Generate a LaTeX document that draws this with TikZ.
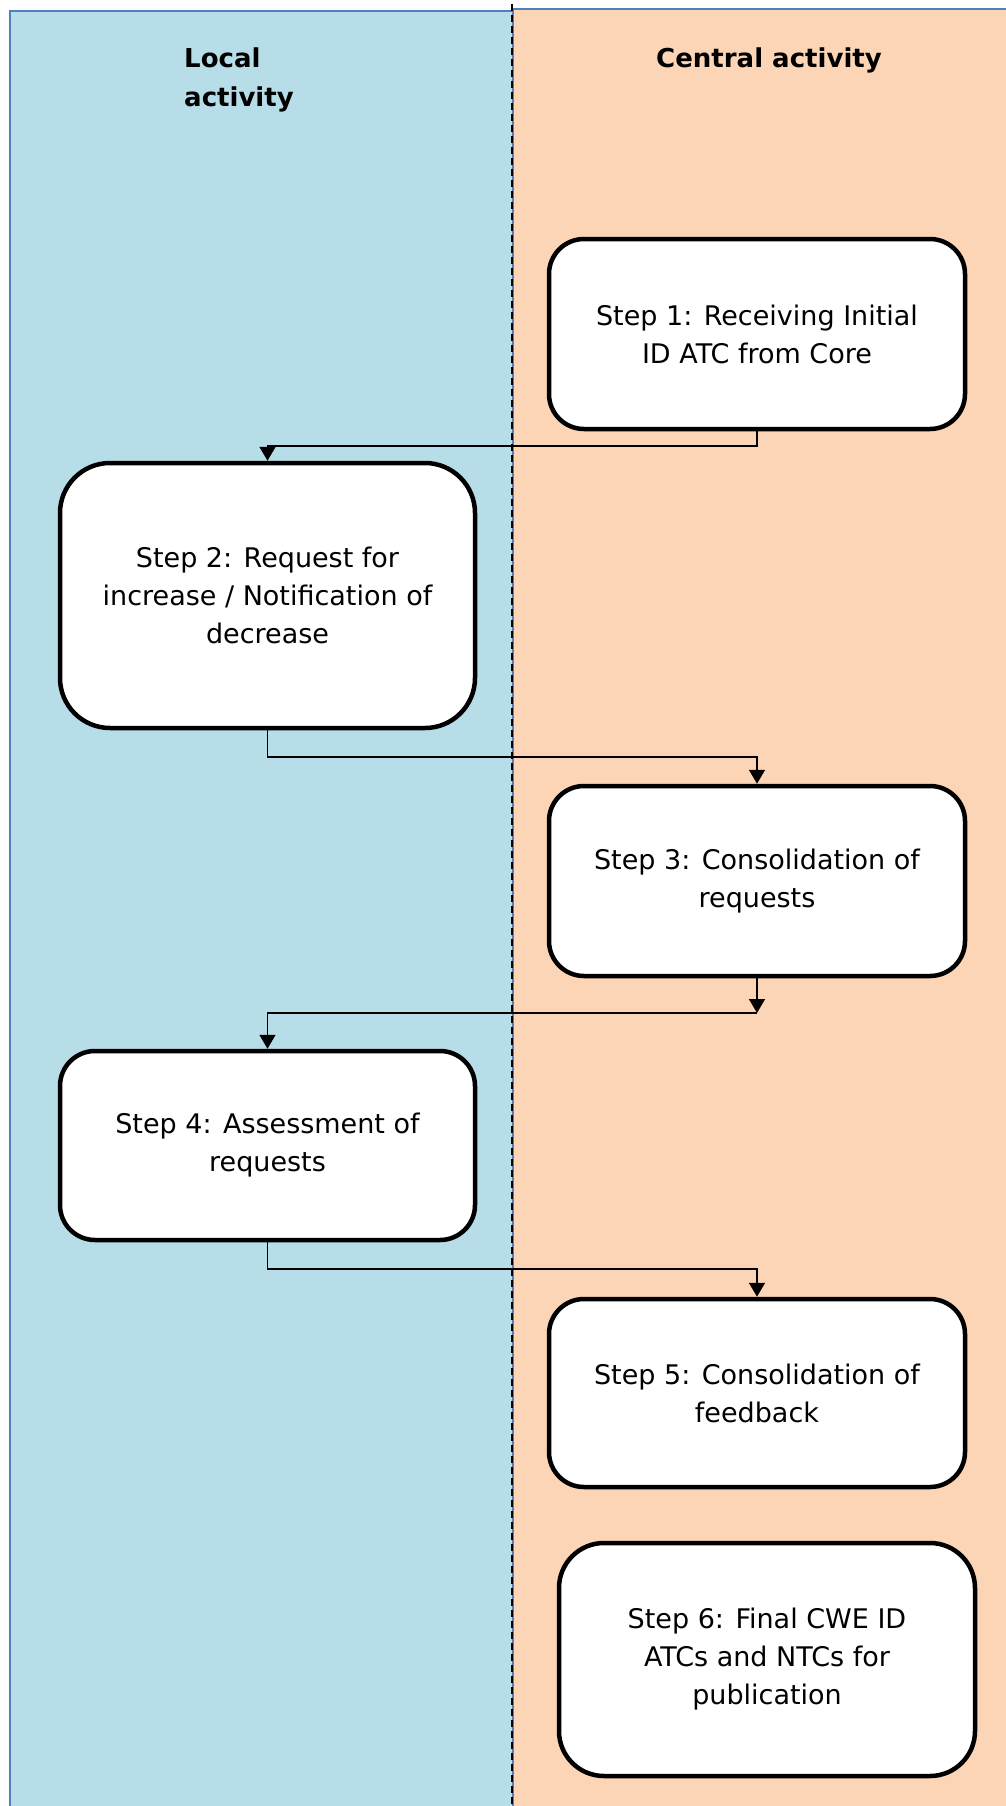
\documentclass[tikz,border=0pt]{standalone}
\usepackage{fontspec}
\setmainfont{DejaVu Sans}
\usetikzlibrary{arrows.meta}

\definecolor{localfill}{RGB}{183,221,232}
\definecolor{centralfill}{RGB}{251,213,181}
\definecolor{laneline}{RGB}{79,129,189}

\tikzset{
  stepbox/.style={draw, line width=4.5pt, fill=white, rounded corners=35pt,
    align=center, inner sep=0pt, font=\fontsize{27}{38}\selectfont},
  lanehead/.style={font=\bfseries\fontsize{26}{39}\selectfont, inner sep=0pt},
  flow/.style={line width=1.6pt, -{Triangle[width=16pt,length=14pt]}},
}

\begin{document}
\begin{tikzpicture}[x=1pt, y=-1pt]
  \useasboundingbox (0,0) rectangle (1005,1806);
  % swim lanes
  \draw[laneline, line width=1.5pt, fill=localfill] (10,1810) -- (10,11) -- (513,11) -- (513,1810);
  \draw[laneline, line width=1.5pt, fill=centralfill] (513,1810) -- (513,9) -- (1010,9) -- (1010,1810);
  \draw[line width=1.5pt, dash pattern=on 7pt off 4pt] (512,4) -- (512,1806);

  \node[lanehead, anchor=west, align=left] (hdlocal) at (184,80) {Local\\activity};
  \node[lanehead] (hdcentral) at (769,60.5) {Central activity};

  % steps
  \node[stepbox, minimum width=416pt, minimum height=190pt] (s1) at (757,334) {Step 1: Receiving Initial\\ID ATC from Core};
  \node[stepbox, minimum width=415pt, minimum height=265pt, rounded corners=50pt] (s2) at (267.5,595.5) {Step 2: Request for\\increase / Notification of\\decrease};
  \node[stepbox, minimum width=416pt, minimum height=190pt] (s3) at (757,881) {Step 3: Consolidation of\\requests};
  \node[stepbox, minimum width=415pt, minimum height=189pt] (s4) at (267.5,1145.5) {Step 4: Assessment of\\requests};
  \node[stepbox, minimum width=416pt, minimum height=188pt] (s5) at (757,1393) {Step 5: Consolidation of\\feedback};
  \node[stepbox, minimum width=416pt, minimum height=233pt, rounded corners=45pt] (s6) at (767,1659.5) {Step 6: Final CWE ID\\ATCs and NTCs for\\publication};

  % connectors
  \coordinate (j1) at (757,446);
  \coordinate (j2) at (267.5,757);
  \coordinate (j3) at (757,1013);
  \coordinate (j4) at (267.5,1269);
  \draw[flow] (s1.south) -- (j1) -| (s2.north);
  \draw[flow] (s2.south) -- (j2) -| (s3.north);
  \draw[flow] (s3.south) -- (j3);
  \draw[flow] (j3) -| (s4.north);
  \draw[flow] (s4.south) -- (j4) -| (s5.north);
\end{tikzpicture}
\end{document}
